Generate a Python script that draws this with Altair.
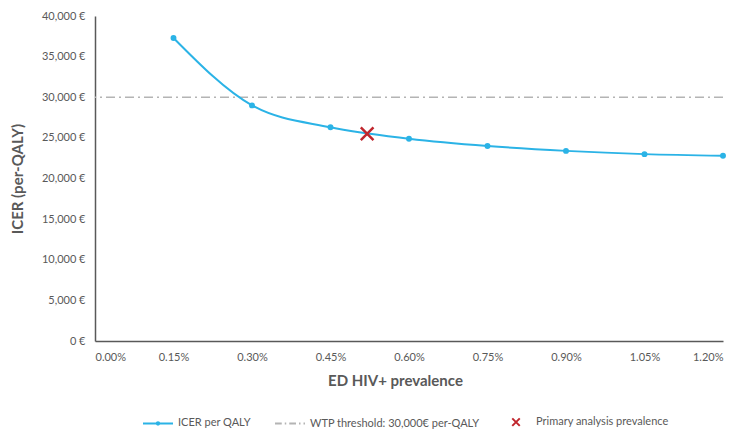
import altair as alt
import pandas as pd

prevalence = [0.15, 0.30, 0.45, 0.60, 0.75, 0.90, 1.05, 1.20]
icer = [37300, 29000, 26300, 24900, 24000, 23400, 23000, 22800]
wtp_threshold = 30000
primary_prev = [0.52]
primary_icer = [25500]
series_names = ["ICER per QALY", "WTP threshold: 30,000€ per-QALY", "Primary analysis prevalence"]
x_ticks = [0, 0.15, 0.30, 0.45, 0.60, 0.75, 0.90, 1.05, 1.20]
y_ticks = [0, 5000, 10000, 15000, 20000, 25000, 30000, 35000, 40000]

BLUE = "#2bb3e6"
GRAY = "#b4b4b4"
RED = "#c0262d"
TEXT = "#595959"
FONT = "Lato"

df = pd.DataFrame({"prev": prevalence, "icer": icer})
dfp = pd.DataFrame({"prev": primary_prev, "icer": primary_icer})
dft = pd.DataFrame({"y": [wtp_threshold]})
dfl = pd.DataFrame({"series": series_names})

xscale = alt.Scale(domain=[0, 1.2], nice=False, zero=True)
yscale = alt.Scale(domain=[0, 40000], nice=False)

xaxis = alt.Axis(values=x_ticks, labelExpr="format(datum.value, '.2f') + '%'",
                 title="ED HIV+ prevalence", grid=False, ticks=False,
                 labelPadding=10, titlePadding=11, titleX=300, titleAlign="center")
yaxis = alt.Axis(values=y_ticks, labelExpr="format(datum.value, ',') + ' €'",
                 title="ICER (per-QALY)", grid=False, ticks=False,
                 labelPadding=10, titlePadding=16)

base = alt.Chart(df)
line = base.mark_line(interpolate="monotone", color=BLUE, strokeWidth=2).encode(
    x=alt.X("prev:Q", scale=xscale, axis=xaxis),
    y=alt.Y("icer:Q", scale=yscale, axis=yaxis),
)
pts = base.mark_point(filled=True, color=BLUE, size=35, opacity=1).encode(
    x=alt.X("prev:Q", scale=xscale), y=alt.Y("icer:Q", scale=yscale)
)
rule = alt.Chart(dft).mark_rule(color=GRAY, strokeWidth=1.5, strokeDash=[9, 4, 2, 4]).encode(
    y=alt.Y("y:Q", scale=yscale)
)
cross = alt.Chart(dfp).mark_point(
    shape="M-1,-1L1,1M-1,1L1,-1", filled=False, color=RED, strokeWidth=2.5, size=160, opacity=1
).encode(x=alt.X("prev:Q", scale=xscale), y=alt.Y("icer:Q", scale=yscale))

legend_shapes = [
    "M-1,0L1,0M0.08,0A0.08,0.08 0 1,1 -0.08,0A0.08,0.08 0 1,1 0.08,0",
    "M-1,0L-0.55,0M-0.35,0L-0.25,0M-0.05,0L0.4,0M0.6,0L0.7,0M0.9,0L1,0",
    "M-0.25,-0.25L0.25,0.25M-0.25,0.25L0.25,-0.25",
]
leg = alt.Chart(dfl).transform_filter("false").mark_point(filled=False, strokeWidth=2, opacity=1).encode(
    color=alt.Color("series:N", scale=alt.Scale(domain=series_names, range=[BLUE, GRAY, RED]),
                    legend=alt.Legend(title=None, orient="none", direction="horizontal",
                                      legendX=47, legendY=390, columnPadding=20,
                                      symbolSize=900, symbolStrokeWidth=2, labelOffset=4,
                                      labelLimit=400,
                                      labelFontSize=11, labelColor=TEXT, labelFont=FONT)),
    shape=alt.Shape("series:N", scale=alt.Scale(domain=series_names, range=legend_shapes), legend=None),
)

chart = alt.layer(rule, line, pts, cross, leg).properties(
    width=628, height=325,
    autosize=alt.AutoSizeParams(type="none"),
    padding={"left": 87, "top": 8, "right": 19, "bottom": 90},
).configure_view(stroke=None).configure_axis(
    domainColor="#595959", domainWidth=1.5, labelColor=TEXT, labelFont=FONT, labelFontSize=11,
    titleColor=TEXT, titleFont=FONT, titleFontSize=15, titleFontWeight="bold",
).configure_legend(symbolFillColor="transparent")

chart.save("out.html", embed_options={"renderer": "svg", "actions": False})
